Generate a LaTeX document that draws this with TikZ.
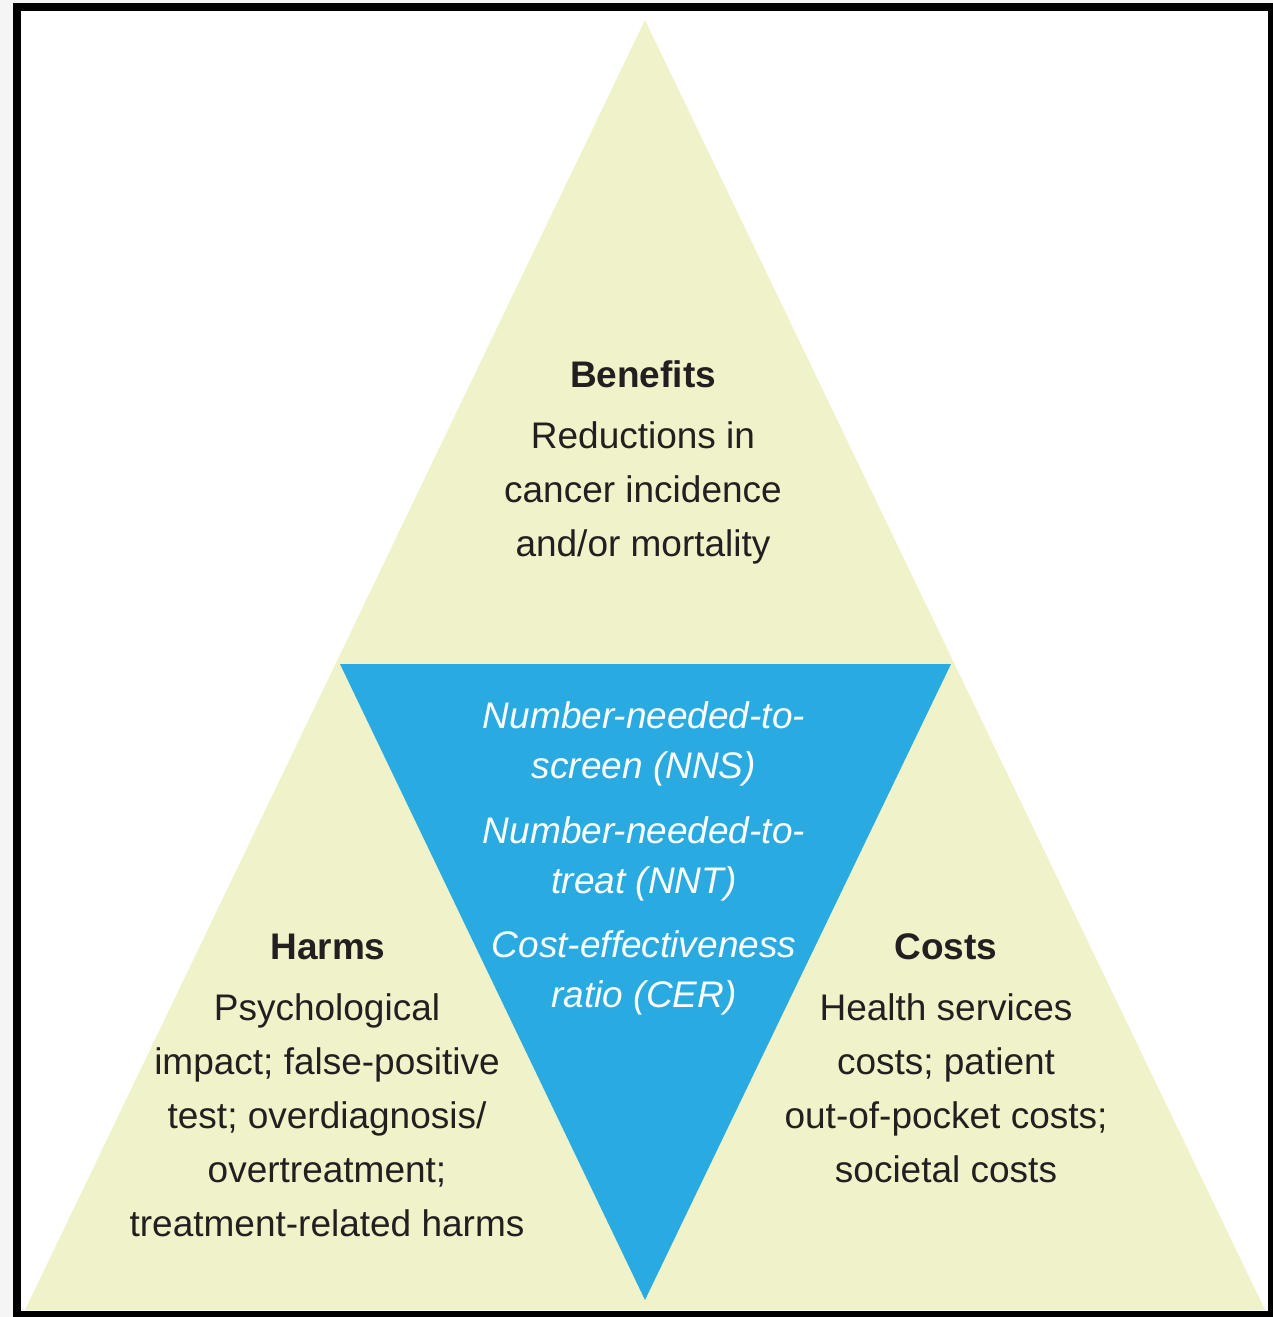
\documentclass[tikz,border=0pt]{standalone}
\usepackage{fontspec}
\setmainfont{Liberation Sans}

\definecolor{paleyellow}{HTML}{F0F3C9}
\definecolor{skyblue}{HTML}{29ABE2}
\definecolor{inkgray}{HTML}{231F20}

\tikzset{
  heading/.style={font=\bfseries\fontsize{18.5}{27}\selectfont, text=inkgray, anchor=base, inner sep=0pt},
  bodytext/.style={align=center, font=\fontsize{18.5}{27}\selectfont, text=inkgray, anchor=base, inner sep=0pt},
  measure/.style={align=center, font=\itshape\fontsize{18.5}{25}\selectfont, text=white, anchor=base, inner sep=0pt}
}

\begin{document}
\begin{tikzpicture}[x=0.5pt,y=-0.5pt]
% page and frame
\fill[black!4] (0,0) rectangle (1273,1317);
\useasboundingbox (0,0) rectangle (1273,1317);
\fill[black] (13,3) rectangle (1273,1317);
\fill[white] (21,11) rectangle (1268,1311);

% outer triangle
\coordinate (apex) at (645,20);
\coordinate (bl) at (25,1310);
\coordinate (br) at (1265,1310);
\fill[paleyellow] (apex) -- (br) -- (bl) -- cycle;

% inner (inverted) triangle
\coordinate (nw) at (340,664);
\coordinate (ne) at (951,664);
\coordinate (s) at (645,1300);
\fill[skyblue] (nw) -- (ne) -- (s) -- cycle;

% benefits (base anchor = last line)
\node[heading] (benefits) at (643,387) {Benefits};
\node[bodytext] (benefitstext) at (643,556) {Reductions in\\cancer incidence\\and/or mortality};

% harms
\node[heading] (harms) at (328,959) {Harms};
\node[bodytext] (harmstext) at (327,1236) {Psychological\\impact; false-positive\\test; overdiagnosis/\\overtreatment;\\treatment-related harms};

% costs
\node[heading] (costs) at (946,959) {Costs};
\node[bodytext] (coststext) at (946,1182) {Health services\\costs; patient\\out-of-pocket costs;\\societal costs};

% measures
\node[measure] (nns) at (644,778) {Number-needed-to-\\screen (NNS)};
\node[measure] (nnt) at (644,893) {Number-needed-to-\\treat (NNT)};
\node[measure] (cer) at (644,1007) {Cost-effectiveness\\ratio (CER)};
\end{tikzpicture}
\end{document}
